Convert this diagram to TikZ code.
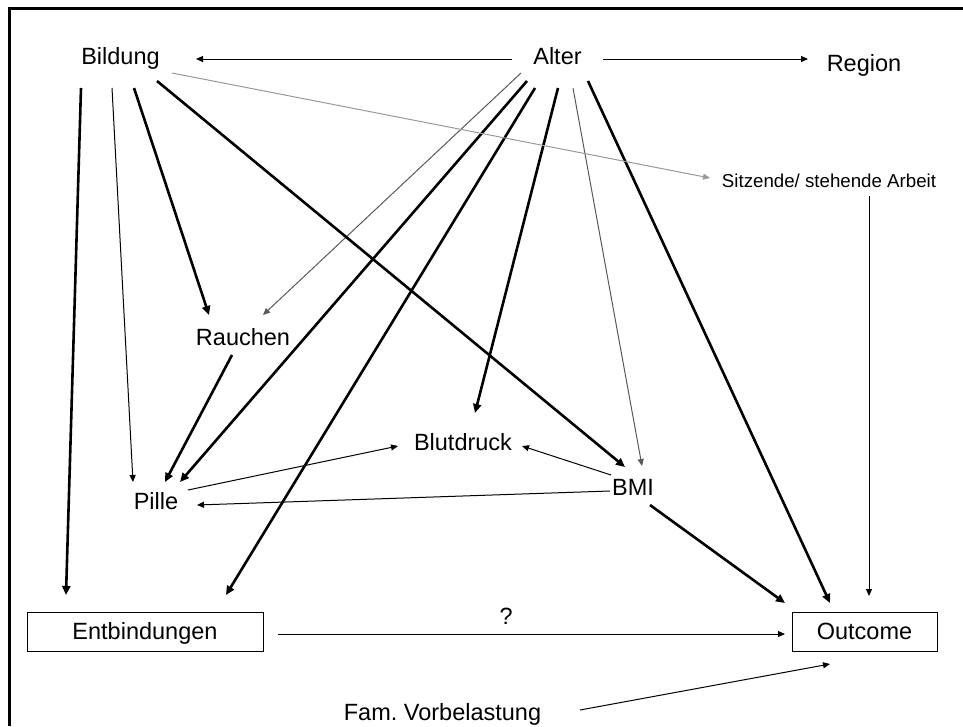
\documentclass[tikz,border=0pt]{standalone}
\usepackage{fontspec}
\setmainfont{Liberation Sans}
\usetikzlibrary{arrows.meta}
\begin{document}
\begin{tikzpicture}[x=1pt,y=-1pt,
  lbl/.style={inner sep=0pt,anchor=base,font=\fontsize{23.5}{28}\selectfont},
  smalllbl/.style={inner sep=0pt,anchor=base,font=\fontsize{18.7}{22}\selectfont},
  boxed/.style={draw,line width=0.9pt,inner sep=0pt,text height=16.8pt,text depth=0pt,
    minimum height=39pt,font=\fontsize{23.5}{28}\selectfont},
  thin/.style={line width=1pt,-{Triangle[length=7pt,width=6pt]}},
  heavy/.style={line width=2.6pt,-{Triangle[length=9pt,width=8pt]}},
  faint/.style={thin,draw=black!40,-{Triangle[length=7pt,width=6pt,fill=black!40]}},
  dim/.style={thin,draw=black!65}]
\useasboundingbox (0,0) rectangle (963,726);
% outer frame (only the top and left sides are visible)
\draw[line width=2.6pt] (9.5,726) -- (9.5,8.5) -- (963,8.5);

% variables
\node[lbl] (bild) at (120.5,64) {Bildung};
\node[lbl] (alter) at (557.5,64) {Alter};
\node[lbl] (region) at (864,71) {Region};
\node[smalllbl] (sitz) at (829,187.5) {Sitzende/ stehende Arbeit};
\node[lbl] (rauch) at (243,345) {Rauchen};
\node[lbl] (blut) at (463,450) {Blutdruck};
\node[lbl] (bmi) at (633,495) {BMI};
\node[lbl] (pille) at (156,509) {Pille};
\node[lbl] (fam) at (442.5,720) {Fam.\ Vorbelastung};
\node[boxed,minimum width=236pt] (entb) at (145,631.5) {Entbindungen};
\node[boxed,minimum width=145pt] (outc) at (864.5,631.5) {Outcome};

% arrows from Alter
\draw[thin] ([shift={(-45.5,-5)}]alter.base) -- ([shift={(75.5,-5)}]bild.base);
\draw[thin] ([shift={(45.5,-5)}]alter.base) -- ([shift={(-56,-12)}]region.base);
\draw[dim] ([shift={(-36.5,9)}]alter.base) -- ([shift={(20,-30)}]rauch.base);
\draw[heavy] ([shift={(-30.5,17)}]alter.base) -- ([shift={(24,-27)}]pille.base);
\draw[heavy] ([shift={(-22.5,24)}]alter.base) -- ([shift={(81,-36.5)}]entb.center);
\draw[heavy] ([shift={(0.5,24)}]alter.base) -- ([shift={(12,-37)}]blut.base);
\draw[dim] ([shift={(15.5,24)}]alter.base) -- ([shift={(9,-29)}]bmi.base);
\draw[heavy] ([shift={(30.5,17)}]alter.base) -- ([shift={(-34.5,-28.5)}]outc.center);

% arrows from Bildung
\draw[faint] ([shift={(51.5,9)}]bild.base) -- ([shift={(-119,-9.5)}]sitz.base);
\draw[heavy] ([shift={(-39.5,24)}]bild.base) -- ([shift={(-79,-36.5)}]entb.center);
\draw[thin] ([shift={(-8.5,24)}]bild.base) -- ([shift={(-23,-27)}]pille.base);
\draw[heavy] ([shift={(13.5,24)}]bild.base) -- ([shift={(-34,-30)}]rauch.base);
\draw[heavy] ([shift={(36.5,17)}]bild.base) -- ([shift={(-8,-28)}]bmi.base);

% remaining arrows
\draw[thin] ([shift={(40,8.5)}]sitz.base) -- ([shift={(4.5,-35.5)}]outc.center);
\draw[heavy] ([shift={(-11,10)}]rauch.base) -- ([shift={(9,-27)}]pille.base);
\draw[thin] ([shift={(32,-19)}]pille.base) -- ([shift={(-65,-4)}]blut.base);
\draw[thin] ([shift={(-22,-20)}]bmi.base) -- ([shift={(59,-4)}]blut.base);
\draw[thin] ([shift={(-23,-4)}]bmi.base) -- ([shift={(41,-4)}]pille.base);
\draw[heavy] ([shift={(17,10)}]bmi.base) -- ([shift={(-79.5,-28.5)}]outc.center);
\draw[thin] ([shift={(133,2.5)}]entb.center) -- node[lbl,anchor=base,pos=0.45,yshift=10pt] (q) {?} ([shift={(-79.5,2.5)}]outc.center);
\draw[thin] ([shift={(137.5,-10)}]fam.base) -- ([shift={(-34.5,32.5)}]outc.center);
\end{tikzpicture}
\end{document}
